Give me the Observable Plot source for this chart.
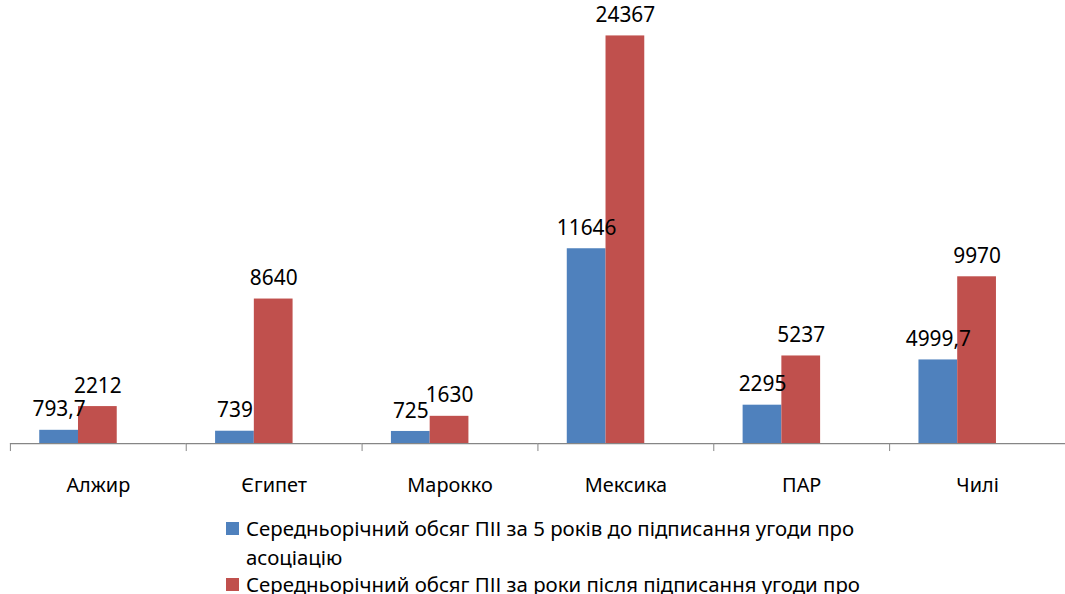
<!DOCTYPE html>
<html>
<head>
<meta charset="utf-8">
<script src="https://cdn.jsdelivr.net/npm/d3@7"></script>
<script src="https://cdn.jsdelivr.net/npm/@observablehq/plot@0.6"></script>
<style>
  html, body { margin: 0; padding: 0; background: #fff; overflow: hidden; width: 1065px; height: 594px; }
  #wrap { position: relative; width: 1065px; height: 594px; overflow: hidden; font-family: "Noto Sans", sans-serif; }
  #chart svg { display: block; }
  #legend { position: absolute; left: 226px; top: 514px; font-size: 20.4px; color: #000; }
  .item { display: flex; align-items: flex-start; }
  .item + .item { margin-top: -2px; }
  .sw { width: 13px; height: 13px; margin-top: 8px; margin-right: 7px; flex: none; }
  .lt { width: 650px; line-height: 29px; }
</style>
</head>
<body>
<div id="wrap"><div id="chart"></div><div id="legend"></div></div>
<script>
const categories = ["Алжир", "Єгипет", "Марокко", "Мексика", "ПАР", "Чилі"];
const seriesNames = [
  "Середньорічний обсяг ПІІ за 5 років до підписання угоди про асоціацію",
  "Середньорічний обсяг ПІІ за роки після підписання угоди про асоціацію"
];
const beforeValues = [793.7, 739, 725, 11646, 2295, 4999.7];
const afterValues = [2212, 8640, 1630, 24367, 5237, 9970];
const colors = ["#4F81BD", "#C0504D"];

const data = [];
categories.forEach((c, i) => {
  data.push({cat: c, series: seriesNames[0], value: beforeValues[i]});
  data.push({cat: c, series: seriesNames[1], value: afterValues[i]});
});
const fmt = v => String(v).replace(".", ",");

const W = 1072, marginLeft = 9.5;
const band = (W - marginLeft) / categories.length;

const chart = Plot.plot({
  width: W,
  height: 500,
  marginLeft: marginLeft,
  marginRight: 0,
  marginTop: 25,
  marginBottom: 54,
  style: {fontFamily: "'Noto Sans', sans-serif", background: "#fff", overflow: "visible"},
  fx: {domain: categories, padding: 0, label: null},
  x: {domain: seriesNames, paddingInner: 0, paddingOuter: 1.214, align: 0.3, axis: null},
  y: {domain: [0, 25000], axis: null},
  color: {domain: seriesNames, range: colors},
  marks: [
    Plot.barY(data, {fx: "cat", x: "series", y: "value", fill: "series"}),
    Plot.text(data, {fx: "cat", x: "series", y: "value", text: d => fmt(d.value),
      fontSize: 21, fill: "#000", lineAnchor: "bottom", dy: -14}),
    Plot.ruleY([0], {stroke: "#868686", strokeWidth: 1.3}),
    Plot.axisFx({anchor: "bottom", tickSize: 0, tickPadding: 35, fontSize: 20, label: null, color: "#000"}),
    Plot.axisFx({anchor: "bottom", tickSize: 8, tickFormat: () => "", dx: -band / 2, stroke: "#868686", label: null})
  ]
});
document.getElementById("chart").appendChild(chart);

const legend = document.getElementById("legend");
seriesNames.forEach((name, i) => {
  const item = document.createElement("div");
  item.className = "item";
  const sw = document.createElement("div");
  sw.className = "sw";
  sw.style.background = colors[i];
  const lt = document.createElement("div");
  lt.className = "lt";
  lt.textContent = name;
  item.appendChild(sw);
  item.appendChild(lt);
  legend.appendChild(item);
});
</script>
</body>
</html>
